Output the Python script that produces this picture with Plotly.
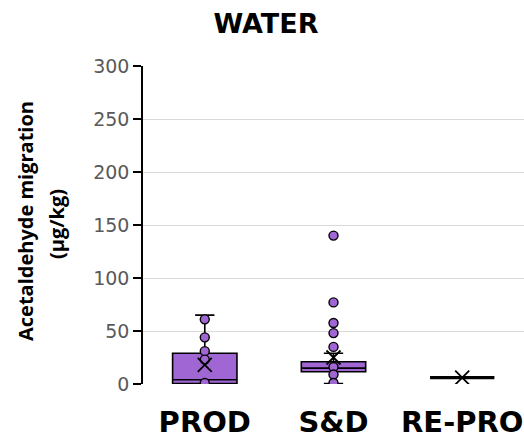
import plotly.graph_objects as go

categories = ["PROD", "S&D", "RE-PRO"]
q1 = [0.5, 11.5, 6]
median = [4, 15, 6]
q3 = [29, 21, 6]
lowerfence = [0, 0.5, 6]
upperfence = [65, 29, 6]
means = [18, 25, 6]

prod_points = [61, 44, 31, 23, 1]
sd_points = [140, 77, 57.5, 48, 35, 16, 9, 1]
repro_points = []

yticks = [0, 50, 100, 150, 200, 250, 300]

purple = "#a066d3"

fig = go.Figure()
# PROD and S&D boxes
fig.add_trace(go.Box(
    x=categories[:2], q1=q1[:2], median=median[:2], q3=q3[:2],
    lowerfence=lowerfence[:2], upperfence=upperfence[:2],
    boxpoints=False, fillcolor=purple,
    line=dict(color="black", width=1.6), width=0.5, whiskerwidth=0.3,
    hoverinfo="skip", showlegend=False,
))
# RE-PRO (degenerate box)
fig.add_trace(go.Box(
    x=categories[2:], q1=q1[2:], median=median[2:], q3=q3[2:],
    lowerfence=lowerfence[2:], upperfence=upperfence[2:],
    boxpoints=False, fillcolor=purple,
    line=dict(color="black", width=3.2), width=0.5, whiskerwidth=0.3,
    hoverinfo="skip", showlegend=False,
))

px, py = [], []
for cat, pts in zip(categories, [prod_points, sd_points, repro_points]):
    px += [cat] * len(pts)
    py += pts
fig.add_trace(go.Scatter(
    x=px, y=py, mode="markers", showlegend=False,
    marker=dict(size=9, color=purple, line=dict(color="black", width=1.4)),
))
fig.add_trace(go.Scatter(
    x=categories, y=means, mode="markers", showlegend=False,
    marker=dict(symbol="x-thin", size=14, line=dict(color="black", width=1.8)),
))

fig.update_layout(
    width=524, height=442,
    margin=dict(l=143, r=0, t=66, b=58),
    paper_bgcolor="white", plot_bgcolor="white",
    font=dict(family="DejaVu Sans"),
    title=dict(text="<b>WATER</b>", x=(266 - 143) / 381, xref="paper", xanchor="center",
               y=1 - 24 / 442, yref="container", yanchor="middle",
               font=dict(size=27, color="black", family="DejaVu Sans")),
    xaxis=dict(range=[-0.48, 2.48], showgrid=False, showline=False, ticks="",
               categoryorder="array", categoryarray=categories,
               tickfont=dict(size=29, color="black", family="DejaVu Sans", weight="bold"),
               ticklabelstandoff=18),
    yaxis=dict(range=[0, 300], tickvals=yticks, showgrid=True, gridcolor="#d9d9d9",
               gridwidth=1, zeroline=False, showline=True, linecolor="black", linewidth=1.5,
               ticks="outside", ticklen=8, tickcolor="black", tickwidth=1.5,
               tickfont=dict(size=19, color="#595959", family="DejaVu Sans")),
    annotations=[
        dict(text="<b>Acetaldehyde migration</b>", xref="paper", yref="paper",
             x=(25 - 143) / 381, y=(384 - 221) / 318, xanchor="center", yanchor="middle",
             textangle=-90, showarrow=False,
             font=dict(size=20, color="black", family="Open Sans")),
        dict(text="<b>(µg/kg)</b>", xref="paper", yref="paper",
             x=(56 - 143) / 381, y=(384 - 224) / 318, xanchor="center", yanchor="middle",
             textangle=-90, showarrow=False,
             font=dict(size=20, color="black", family="Open Sans")),
    ],
)

fig.write_html("out.html")
